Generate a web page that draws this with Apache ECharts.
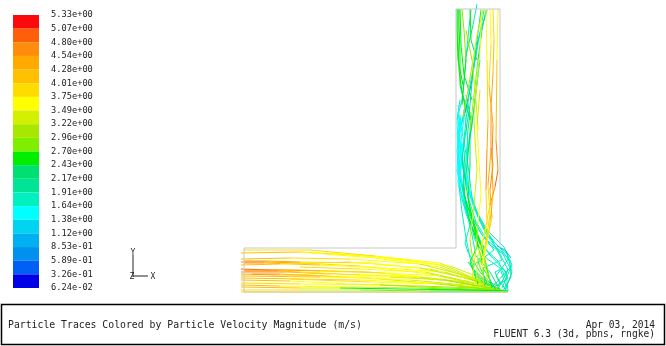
<!DOCTYPE html>
<html><head><meta charset="utf-8">
<style>html,body{margin:0;padding:0;background:#fff}#c{width:666px;height:346px}</style>
<script src="https://cdn.jsdelivr.net/npm/echarts@6/dist/echarts.min.js"></script>
</head><body><div id="c"></div>
<script>
const legendLabels = ['5.33e+00','5.07e+00','4.80e+00','4.54e+00','4.28e+00','4.01e+00','3.75e+00','3.49e+00','3.22e+00','2.96e+00','2.70e+00','2.43e+00','2.17e+00','1.91e+00','1.64e+00','1.38e+00','1.12e+00','8.53e-01','5.89e-01','3.26e-01','6.24e-02'];
const bandColors = ['#fa0a0a','#ff5f0a','#ff8c0a','#ffaa00','#ffc000','#ffdc00','#ffff00','#d2f000','#a8e800','#80ee00','#00ee00','#00e070','#00e496','#00f0c0','#00ffff','#00d4f0','#00b0f0','#0090f0','#0060f5','#0000e6'];
const bandNames = bandColors.map((c, i) => legendLabels[i]);
const speedMax = 5.33, speedMin = 0.0624;
const geometry = [[[456,9],[500,9],[500,248]],[[456,9],[456,248],[244,248],[244,292],[508,292]]];
const triad = [[[133,255],[133,277]],[[133,276],[148,276]]];
// [x, y, speed]
const inletTraces = [
 [[241,253,4.3],[300,252,3.9],[370,256,3.7],[440,265,3.6],[485,284,3.2],[503,291,2.6]],
 [[244,250,3.9],[310,250,3.8],[375,256,3.7],[440,263,3.6],[480,281,3.2],[500,289,2.7]],
 [[300,252,3.8],[375,258,3.6],[440,267,3.5],[482,283,3.3]],
 [[330,253,3.7],[390,258,3.6],[450,266,3.5],[486,280,3.3]],
 [[241,259,4.4],[290,258,3.9],[350,259,3.8],[420,264,3.5],[475,278,3.3],[498,288,2.8]],
 [[244,261,4.8],[268,261,4.7],[300,262,3.9],[370,263,3.7],[430,269,3.5],[478,281,3.3]],
 [[241,262,4.9],[265,262,4.7],[300,263,3.9],[360,266,3.8],[430,274,3.5],[480,285,3.1],[505,291,2.5]],
 [[244,263,4.8],[264,263,4.7],[320,265,3.8],[385,268,3.6],[445,272,3.5],[490,286,3.1]],
 [[241,265,4.4],[280,264,4.1],[350,262,3.7],[420,268,3.4],[470,279,3.2],[500,289,2.6]],
 [[300,267,3.8],[360,269,3.7],[425,272,3.5],[470,282,3.3]],
 [[241,269,4.9],[270,270,4.8],[300,270,4.1],[370,272,3.8],[440,279,3.4],[490,288,3.0],[506,291,2.4]],
 [[244,270,4.9],[282,270,4.7],[320,271,3.9],[385,273,3.7],[440,276,3.5],[485,285,3.2]],
 [[241,272,4.7],[285,272,4.6],[330,274,3.8],[400,276,3.5],[460,282,3.4],[498,290,2.7]],
 [[244,271,4.8],[278,271,4.6],[300,272,3.9],[360,275,3.8],[420,277,3.5],[474,283,3.3]],
 [[241,274,4.4],[275,275,4.6],[310,275,3.9],[380,279,3.6],[450,285,3.3],[502,291,2.5]],
 [[252,274,4.6],[280,274,4.6],[340,277,3.8],[410,280,3.5],[465,285,3.3]],
 [[241,276,4.3],[320,277,3.8],[390,277,3.5],[445,280,3.4],[492,289,2.9]],
 [[241,278,4.2],[300,279,3.9],[360,280,3.7],[430,283,3.3],[490,289,2.8]],
 [[290,279,3.9],[370,282,3.6],[440,284,3.4],[480,287,3.1]],
 [[241,280,4.2],[290,281,3.9],[350,284,3.5],[420,286,3.2],[475,288,3.0],[505,291,2.4]],
 [[241,283,4.1],[300,284,3.8],[380,285,3.3],[445,288,3.0],[500,290,2.6]],
 [[241,285,4.2],[280,286,4.0],[350,287,3.4],[420,288,3.1],[500,291,2.6]],
 [[241,287,4.3],[300,288,3.9],[340,288,2.6],[400,289,2.6],[470,290,2.6],[508,291,2.5]],
 [[241,290,4.4],[300,290,3.6],[360,290,3.2],[430,291,2.6],[508,291,2.6]],
 [[241,292,4.3],[320,292,3.7],[420,292,2.9],[508,292,2.6]]
];
const cyanRisers = [
 [[503,291,2.2],[511,277,1.9],[510,262,1.8],[501,249,1.7],[490,238,1.7],[478,215,1.6],[468,185,1.6],[460,150,1.5],[458,115,1.6],[462,100,1.7],[469,27,2.1],[471,10,2.0]],
 [[505,291,2.1],[512,272,1.8],[507,254,1.7],[495,243,1.7],[482,225,1.7],[470,195,1.6],[462,165,1.5],[459,130,1.5],[465,113,0.6],[472,80,1.0],[478,40,1.0],[487,10,1.2]],
 [[498,289,2.2],[508,270,1.9],[498,250,1.7],[486,234,1.7],[474,208,1.6],[465,178,1.6],[458,145,1.5],[457,120,1.6],[460,100,1.8]],
 [[495,288,2.2],[480,272,1.9],[468,252,1.7],[465,243,1.7],[470,225,1.7],[464,195,1.6],[459,165,1.5],[458,135,1.5],[461,115,1.4]],
 [[500,290,2.1],[490,272,1.9],[476,256,1.8],[472,235,1.8],[465,205,1.6],[460,175,1.5],[463,148,1.6],[466,120,1.8],[470,85,1.9],[476,55,1.9],[484,10,1.8]],
 [[506,290,2.1],[496,276,1.9],[509,258,1.8],[490,245,1.8],[476,222,1.7],[469,200,1.6],[467,170,1.6],[468,140,1.8],[464,110,1.6]],
 [[492,287,2.1],[510,268,1.8],[502,252,1.7],[484,238,1.7],[470,214,1.6],[462,186,1.6],[458,158,1.5],[460,125,1.5],[458,105,1.6]],
 [[488,286,2.2],[478,262,1.9],[494,250,1.8],[480,232,1.8],[467,206,1.7],[459,176,1.6],[457,150,1.6],[462,122,1.6],[466,100,1.8]],
 [[502,288,2.0],[512,265,1.8],[504,247,1.7],[487,230,1.7],[473,205,1.6],[464,172,1.6],[461,140,1.5],[464,118,1.5]],
 [[490,285,2.2],[472,268,1.9],[485,252,1.9],[478,235,1.8],[468,212,1.7],[463,190,1.6],[466,160,1.7],[468,130,1.9],[470,112,2.1]],
 [[507,289,2.0],[500,268,1.8],[486,258,1.8],[475,240,1.7],[469,218,1.7],[461,192,1.6],[457,170,1.6],[459,145,1.5]],
 [[496,290,2.1],[483,268,2.0],[502,260,1.7],[492,240,1.7],[479,220,1.7],[472,198,1.8],[468,165,1.7],[462,132,1.5],[458,112,1.6]],
 [[494,287,2.2],[506,280,1.9],[499,262,1.8],[480,244,1.8],[466,214,1.6],[458,182,1.6],[460,155,1.5],[465,135,1.7]],
 [[508,291,2.0],[506,272,1.7],[489,254,1.8],[474,232,1.8],[462,200,1.6],[458,172,1.5],[458,140,1.5],[461,118,1.5]],
 [[486,284,2.2],[476,276,2.0],[470,258,1.8],[466,238,1.7],[462,212,1.7],[459,186,1.6],[461,160,1.6],[464,143,1.6]],
 [[500,284,2.0],[495,272,1.9],[503,268,1.8],[508,278,1.7],[498,286,1.9],[480,278,2.0],[468,262,1.9]],
 [[511,258,0.9],[505,250,1.0],[497,246,1.2]],
 [[465,60,2.0],[473,25,1.9],[477,4,1.6]],
 [[468,150,2.1],[472,125,1.9],[476,90,1.8],[480,60,2.0]],
 [[466,130,1.9],[470,105,2.1],[473,70,2.2],[477,40,2.1],[481,10,2.0]]
];
const greenRisers = [
 [[492,288,2.6],[486,266,2.4],[480,242,2.5],[470,210,2.6],[466,185,2.5],[462,160,2.2],[466,130,2.0]],
 [[485,286,2.7],[482,262,2.5],[476,236,2.6],[468,198,2.5],[470,165,2.3],[470,135,2.4],[474,110,2.2],[478,75,2.0]],
 [[490,280,2.8],[484,255,2.6],[474,226,2.6],[464,195,2.3],[468,155,2.2],[471,120,2.2],[466,95,2.5]],
 [[478,284,2.6],[470,262,2.4],[478,245,2.5],[468,215,2.6],[463,185,2.2],[465,150,2.0]],
 [[470,120,2.1],[462,92,2.6],[459,70,2.6],[458,40,2.6],[458,9,2.6]],
 [[466,110,2.0],[460,85,2.6],[460,55,2.6],[459,25,2.6],[459,9,2.6]],
 [[472,100,2.2],[464,75,2.6],[461,45,2.6],[460,9,2.6]],
 [[463,85,2.6],[458,60,2.6],[457,30,2.6],[457,9,2.6]],
 [[477,60,2.3],[471,40,2.5],[470,9,2.7]],
 [[462,105,2.5],[466,60,2.8],[464,30,2.9],[462,9,2.9]],
 [[463,118,3.0],[468,90,3.1],[473,60,3.2],[477,35,3.3],[483,10,3.3]],
 [[470,130,3.1],[474,95,2.9],[478,60,2.5],[482,30,2.2],[486,10,2.0]],
 [[478,130,3.3],[476,100,3.5],[472,60,3.0],[466,30,3.0]]
];
const hotRisers = [
 [[484,284,3.2],[482,262,3.3],[486,240,3.6],[490,215,3.9],[488,185,4.1],[491,150,4.8],[491,107,4.6],[493,73,4.3],[494,40,3.8],[493,9,3.7]],
 [[480,286,3.3],[480,260,3.3],[484,235,3.6],[490,205,4.2],[495,187,5.0],[498,170,5.1],[496,140,4.4],[497,60,3.8],[498,9,3.6]],
 [[476,283,3.3],[478,255,3.4],[487,225,3.8],[486,190,4.1],[487,150,5.0],[488,120,4.0],[487,60,3.6],[486,9,3.6]],
 [[472,280,3.2],[476,250,3.4],[478,222,3.5],[481,195,3.7],[479,160,3.7],[477,125,3.5],[480,90,3.4]],
 [[488,284,3.1],[484,258,3.4],[489,232,3.9],[493,195,4.4],[492,160,4.6],[493,125,4.7],[489,85,3.9],[491,45,3.6],[490,9,3.6]],
 [[474,268,3.2],[470,240,3.2],[474,205,3.4],[477,170,3.5],[475,140,3.4],[474,115,3.3],[480,50,3.6],[482,9,3.6]],
 [[482,270,3.3],[485,248,3.7],[492,218,4.2],[490,190,4.5],[493,165,4.8],[491,148,4.8]]
];
const titleText = 'Particle Traces Colored by Particle Velocity Magnitude (m/s)';
const dateText = 'Apr 03, 2014';
const versionText = 'FLUENT 6.3 (3d, pbns, rngke)';

function bandOf(v){const i=Math.floor((speedMax-v)/(speedMax-speedMin)*20);return bandColors[Math.max(0,Math.min(19,i))];}
const segments=[];
[...inletTraces,...cyanRisers,...greenRisers,...hotRisers].forEach(t=>{
  for(let i=0;i<t.length-1;i++) segments.push([t[i][0],t[i][1],t[i+1][0],t[i+1][1],(t[i][2]+t[i+1][2])/2]);
});
const lineSeries=(pts,color,w)=>({type:'line',xAxisIndex:1,yAxisIndex:2,data:pts,symbol:'none',silent:true,animation:false,lineStyle:{color,width:w}});
const mono='"DejaVu Sans Mono", monospace';
const chart=echarts.init(document.getElementById('c'),null,{renderer:'canvas'});
chart.setOption({
 animation:false,backgroundColor:'#fff',
 grid:[{left:13,top:15,width:26,height:273},{left:0,top:0,width:666,height:346}],
 xAxis:[{gridIndex:0,type:'value',min:0,max:1,show:false},{gridIndex:1,type:'value',min:0,max:666,show:false}],
 yAxis:[
  {gridIndex:0,type:'category',inverse:true,data:bandNames,show:false},
  {gridIndex:0,type:'category',inverse:true,boundaryGap:false,position:'right',data:legendLabels,axisLine:{show:false},axisTick:{show:false},splitLine:{show:false},
   axisLabel:{interval:0,margin:12,color:'#222',fontFamily:mono,fontSize:8.7,padding:[2,0,0,0],showMinLabel:true,showMaxLabel:true}},
  {gridIndex:1,type:'value',min:0,max:346,inverse:true,show:false}
 ],
 series:[
  {type:'bar',xAxisIndex:0,yAxisIndex:0,barWidth:'100%',silent:true,data:bandColors.map(c=>({value:1,itemStyle:{color:c}}))},
  ...geometry.map(p=>lineSeries(p,'#c8c8c8',1)),
  ...triad.map(p=>lineSeries(p,'#222',1)),
  {type:'custom',xAxisIndex:1,yAxisIndex:2,silent:true,data:segments,encode:{x:[0,2],y:[1,3]},
   renderItem(params,api){
     const a=api.coord([api.value(0),api.value(1)]),b=api.coord([api.value(2),api.value(3)]);
     return {type:'line',shape:{x1:a[0],y1:a[1],x2:b[0],y2:b[1]},style:{stroke:bandOf(api.value(4)),lineWidth:1,fill:null}};
   }}
 ],
 graphic:[
  {type:'rect',shape:{x:1.5,y:304.5,width:663,height:40},style:{fill:'#fff',stroke:'#000',lineWidth:1.5},z:1},
  {type:'text',x:8,y:325.5,style:{text:titleText,fill:'#222',font:'9.8px '+mono,textVerticalAlign:'middle'},z:2},
  {type:'text',x:655,y:325.5,style:{text:dateText,fill:'#222',font:'9.6px '+mono,textAlign:'right',textVerticalAlign:'middle'},z:2},
  {type:'text',x:655,y:334,style:{text:versionText,fill:'#222',font:'9.6px '+mono,textAlign:'right',textVerticalAlign:'middle'},z:2},
  {type:'text',x:133,y:253,style:{text:'Y',fill:'#222',font:'8px '+mono,textAlign:'center',textVerticalAlign:'middle'},z:2},
  {type:'text',x:153,y:277,style:{text:'X',fill:'#222',font:'8px '+mono,textAlign:'center',textVerticalAlign:'middle'},z:2},
  {type:'text',x:132,y:277,style:{text:'Z',fill:'#222',font:'8px '+mono,textAlign:'center',textVerticalAlign:'middle'},z:2}
 ]
});
</script></body></html>
